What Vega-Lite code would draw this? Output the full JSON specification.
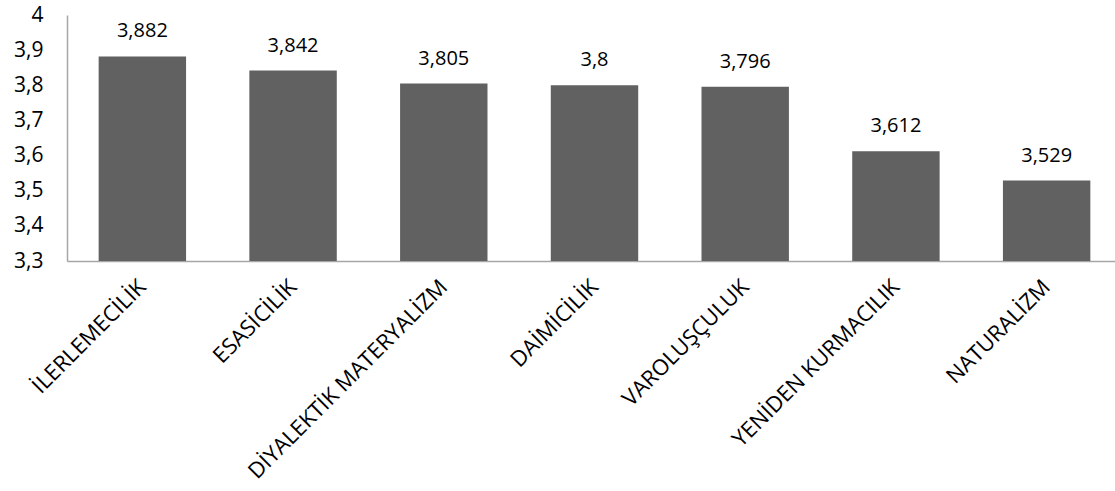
{
  "$schema": "https://vega.github.io/schema/vega-lite/v6.json",
  "autosize": {"type": "none"},
  "padding": {"left": 67, "top": 15, "right": 0, "bottom": 230},
  "width": 1055,
  "height": 246,
  "config": {
    "locale": {"number": {"decimal": ",", "thousands": ".", "grouping": [3], "currency": ["", ""]}},
    "view": {"stroke": null},
    "font": "Open Sans"
  },
  "data": {
    "values": [
      {"kategori": "İLERLEMECİLİK", "deger": 3.882},
      {"kategori": "ESASİCİLİK", "deger": 3.842},
      {"kategori": "DİYALEKTİK MATERYALİZM", "deger": 3.805},
      {"kategori": "DAİMİCİLİK", "deger": 3.8},
      {"kategori": "VAROLUŞÇULUK", "deger": 3.796},
      {"kategori": "YENİDEN KURMACILIK", "deger": 3.612},
      {"kategori": "NATURALİZM", "deger": 3.529}
    ]
  },
  "encoding": {
    "x": {
      "field": "kategori", "type": "nominal", "sort": null,
      "scale": {"paddingInner": 0.42, "paddingOuter": 0.21},
      "axis": {"title": null, "ticks": false, "labelAngle": -45, "labelAlign": "right", "labelBaseline": "middle",
               "labelFont": "Open Sans", "labelFontSize": 22, "labelColor": "#000000", "labelPadding": 22,
               "domainColor": "#a6a6a6", "domainWidth": 1.5, "labelLimit": 500}
    },
    "y": {
      "field": "deger", "type": "quantitative",
      "scale": {"domain": [3.3, 4], "zero": false, "nice": false},
      "axis": {"title": null, "ticks": false, "grid": false, "values": [3.3, 3.4, 3.5, 3.6, 3.7, 3.8, 3.9, 4],
               "format": ".1~f", "labelFont": "Open Sans", "labelFontSize": 21, "labelColor": "#000000",
               "labelPadding": 24, "domainColor": "#a6a6a6", "domainWidth": 1.5}
    }
  },
  "layer": [
    {"mark": {"type": "bar", "color": "#616161", "clip": true}},
    {"mark": {"type": "text", "baseline": "bottom", "dy": -15, "font": "Open Sans", "fontSize": 20, "color": "#000000"},
     "encoding": {"text": {"field": "deger", "type": "quantitative", "format": ".3~f"}}}
  ]
}
